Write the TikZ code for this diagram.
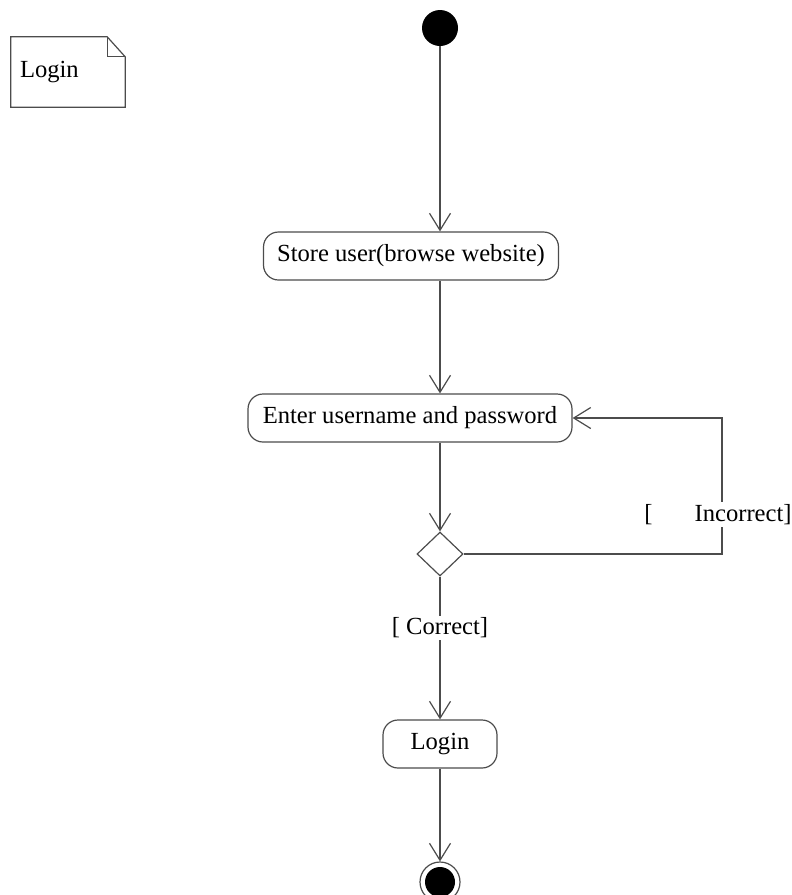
\documentclass[tikz,border=0pt]{standalone}
\usepackage{fontspec}
\setmainfont{Liberation Serif}
\usepackage{tikz}
\usetikzlibrary{shapes.geometric,arrows.meta}

\begin{document}
\begin{tikzpicture}[x=1pt,y=-1pt,
  font=\fontsize{24.6}{29}\selectfont,
  act/.style={draw=black!70,line width=1.2pt,rounded corners=15pt,minimum height=48pt,inner sep=0pt},
  flow/.style={draw=black!70,line width=1.2pt,-{Straight Barb[length=17pt,width=21pt]}},
  guard/.style={fill=white,inner sep=2pt}]
\useasboundingbox (0,0) rectangle (792,895);

\node[minimum width=114pt,minimum height=70pt,text width=96pt,align=left,inner xsep=9pt] (note) at (68,72) {Login};
\draw[black!70,line width=1.2pt] (note.south west) -- (note.north west) -- ([xshift=-18pt]note.north east)
  -- ([yshift=-20pt]note.north east) -- (note.south east) -- cycle;
\draw[black!70,line width=1.2pt] ([xshift=-18pt]note.north east) -- ([xshift=-18pt,yshift=-20pt]note.north east)
  -- ([yshift=-20pt]note.north east);

\node[circle,fill=black,minimum size=36pt,inner sep=0pt] (start) at (440,28) {};
\node[act,minimum width=295pt] (store) at (411,256) {Store user(browse website)};
\node[act,minimum width=324pt] (enter) at (410,418) {Enter username and password};
\node[diamond,draw=black!70,line width=1.2pt,minimum width=46pt,minimum height=44pt,inner sep=0pt] (dec) at (440,554) {};
\node[act,minimum width=114pt] (login) at (440,744) {Login};
\node[circle,draw=black!70,line width=1.2pt,minimum size=40pt,inner sep=0pt,
  path picture={\fill[black] (path picture bounding box.center) circle (15pt);}] (end) at (440,882) {};
\coordinate (turn) at (722,554);

\draw[flow] (start) -- (start |- store.north);
\draw[flow] (store.south -| start) -- (enter.north -| start);
\draw[flow] (enter.south -| dec) -- (dec.north);
\draw[flow] (dec.east) -- (turn) -- node[guard,pos=0.29,xshift=-4pt] {[\hspace{42pt}Incorrect]} (turn |- enter.east) -- (enter.east);
\draw[flow] (dec.south) -- node[guard,pos=0.36] {[ Correct]} (login.north);
\draw[flow] (login) -- (end);

\end{tikzpicture}
\end{document}
